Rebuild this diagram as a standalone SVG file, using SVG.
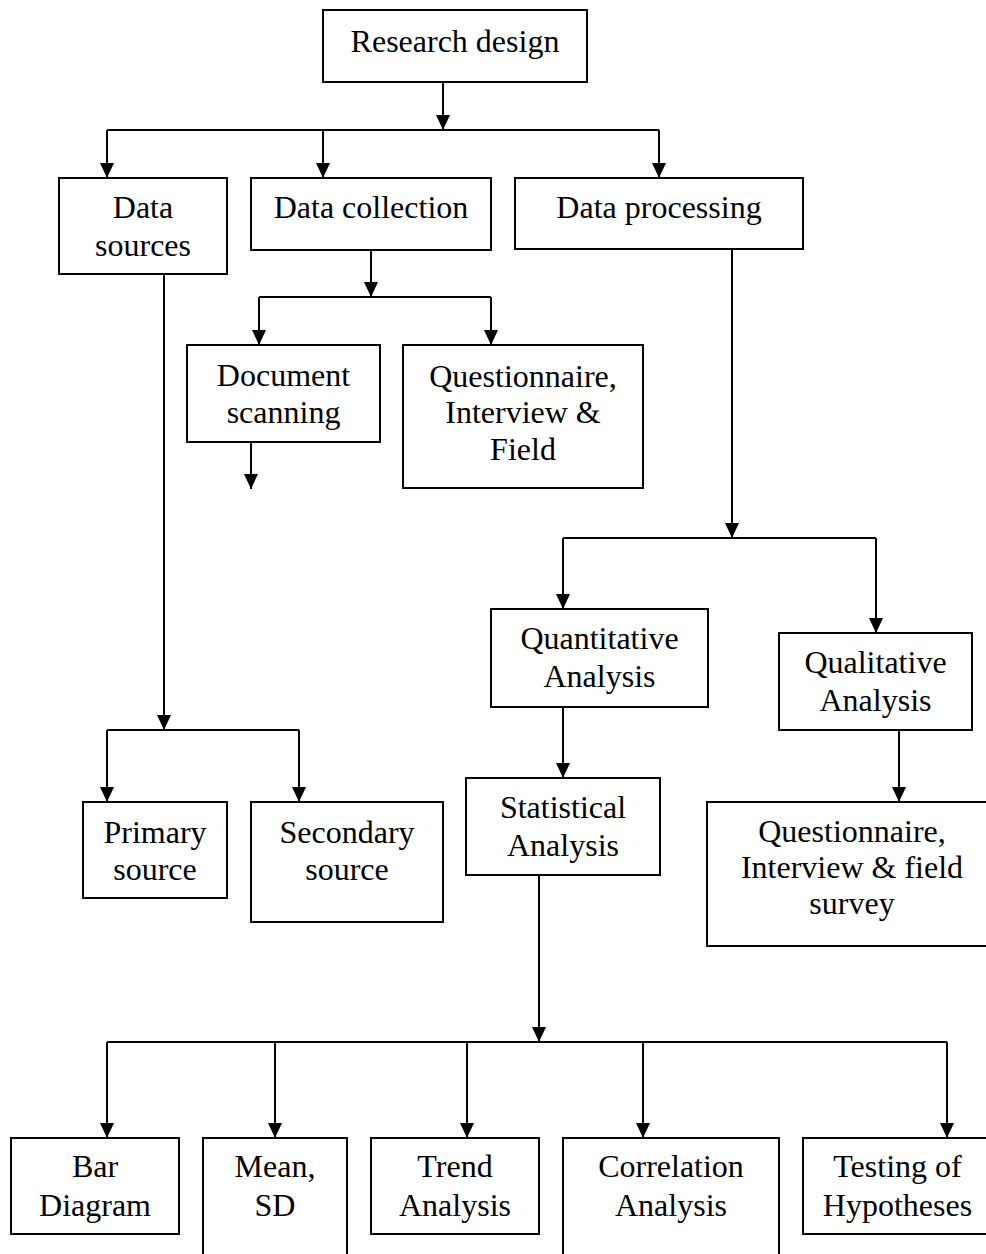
<svg xmlns="http://www.w3.org/2000/svg" width="986" height="1254" viewBox="0 0 986 1254">
<defs>
<style>
rect{fill:#fff;stroke:#000;stroke-width:2}
text{font-family:"Liberation Serif","Times New Roman",serif;font-size:32px;fill:#000;text-anchor:middle}
.c path{fill:none;stroke:#000;stroke-width:2}
.c path.a{marker-end:url(#ah)}
</style>
<marker id="ah" viewBox="0 0 15 14" refX="15" refY="7" markerWidth="15" markerHeight="14" markerUnits="userSpaceOnUse" orient="auto">
<path d="M0,0 L15,7 L0,14 z" fill="#000"/>
</marker>
</defs>
<rect x="0" y="0" width="986" height="1254" style="fill:#fff;stroke:none"/>
<g class="c" id="connectors">
<path class="a" d="M443,82 V130"/>
<path d="M107,130 H659"/>
<path class="a" d="M107,130 V178"/>
<path class="a" d="M323,130 V178"/>
<path class="a" d="M659,130 V178"/>
<path class="a" d="M371,250 V297"/>
<path d="M259,297 H491"/>
<path class="a" d="M259,297 V345"/>
<path class="a" d="M491,297 V345"/>
<path class="a" d="M251,442 V489"/>
<path class="a" d="M164,274 V730"/>
<path d="M107,730 H299"/>
<path class="a" d="M107,730 V802"/>
<path class="a" d="M299,730 V802"/>
<path class="a" d="M732,249 V538"/>
<path d="M563,538 H876"/>
<path class="a" d="M563,538 V609"/>
<path class="a" d="M876,538 V633"/>
<path class="a" d="M563,707 V778"/>
<path class="a" d="M899,730 V802"/>
<path class="a" d="M539,875 V1042"/>
<path d="M107,1042 H947"/>
<path class="a" d="M107,1042 V1138"/>
<path class="a" d="M275,1042 V1138"/>
<path class="a" d="M467,1042 V1138"/>
<path class="a" d="M643,1042 V1138"/>
<path class="a" d="M947,1042 V1138"/>
</g>
<g id="research-design"><rect x="323" y="10" width="264" height="72"/><text x="455" y="52">Research design</text></g>
<g id="data-sources"><rect x="59" y="178" width="168" height="96"/><text x="143" y="218">Data</text><text x="143" y="256">sources</text></g>
<g id="data-collection"><rect x="251" y="178" width="240" height="72"/><text x="371" y="218">Data collection</text></g>
<g id="data-processing"><rect x="515" y="178" width="288" height="71"/><text x="659" y="218">Data processing</text></g>
<g id="document-scanning"><rect x="187" y="345" width="193" height="97"/><text x="283.5" y="386">Document</text><text x="283.5" y="423">scanning</text></g>
<g id="questionnaire-field"><rect x="403" y="345" width="240" height="143"/><text x="523" y="387">Questionnaire,</text><text x="523" y="423">Interview &amp;</text><text x="523" y="460">Field</text></g>
<g id="quantitative"><rect x="491" y="609" width="217" height="98"/><text x="599.5" y="649">Quantitative</text><text x="599.5" y="687">Analysis</text></g>
<g id="qualitative"><rect x="779" y="633" width="193" height="97"/><text x="875.5" y="673">Qualitative</text><text x="875.5" y="711">Analysis</text></g>
<g id="primary-source"><rect x="83" y="802" width="144" height="96"/><text x="155" y="843">Primary</text><text x="155" y="880">source</text></g>
<g id="secondary-source"><rect x="251" y="802" width="192" height="120"/><text x="347" y="843">Secondary</text><text x="347" y="880">source</text></g>
<g id="statistical"><rect x="466" y="778" width="194" height="97"/><text x="563" y="818">Statistical</text><text x="563" y="856">Analysis</text></g>
<g id="questionnaire-survey"><rect x="707" y="802" width="290" height="144"/><text x="852" y="842">Questionnaire,</text><text x="852" y="878">Interview &amp; field</text><text x="852" y="914">survey</text></g>
<g id="bar-diagram"><rect x="11" y="1138" width="168" height="96"/><text x="95" y="1177">Bar</text><text x="95" y="1216">Diagram</text></g>
<g id="mean-sd"><rect x="203" y="1138" width="144" height="130"/><text x="275" y="1177">Mean,</text><text x="275" y="1216">SD</text></g>
<g id="trend"><rect x="371" y="1138" width="168" height="96"/><text x="455" y="1177">Trend</text><text x="455" y="1216">Analysis</text></g>
<g id="correlation"><rect x="563" y="1138" width="216" height="130"/><text x="671" y="1177">Correlation</text><text x="671" y="1216">Analysis</text></g>
<g id="testing"><rect x="803" y="1138" width="190" height="96"/><text x="897.5" y="1177">Testing of</text><text x="897.5" y="1216">Hypotheses</text></g>
</svg>
